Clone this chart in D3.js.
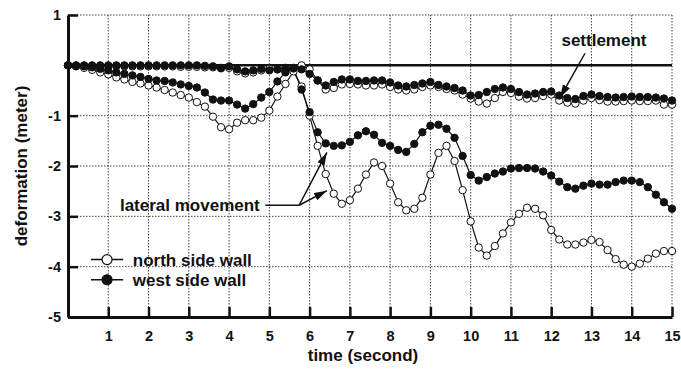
<!DOCTYPE html>
<html lang="en">
<head>
<meta charset="utf-8">
<title>Wall deformation</title>
<script src="https://cdnjs.cloudflare.com/ajax/libs/d3/7.8.5/d3.min.js"></script>
<style>
    body { margin: 0; background: #fff; }
    svg text { font-family: "Liberation Sans", Arial, Helvetica, sans-serif; font-weight: bold; fill: #111; }
    .grid line { stroke: #444; stroke-width: 1; stroke-dasharray: 1.5,1.5; }
</style>
</head>
<body>
<svg id="chart" width="681" height="369"></svg>
<script>
// time steps (second)
var time = [0,0.2,0.4,0.6,0.8,1,1.2,1.4,1.6,1.8,2,2.2,2.4,2.6,2.8,3,3.2,3.4,3.6,3.8,
            4,4.2,4.4,4.6,4.8,5,5.2,5.4,5.6,5.8,6,6.2,6.4,6.6,6.8,7,7.2,7.4,7.6,7.8,
            8,8.2,8.4,8.6,8.8,9,9.2,9.4,9.6,9.8,10,10.2,10.4,10.6,10.8,11,11.2,11.4,11.6,11.8,
            12,12.2,12.4,12.6,12.8,13,13.2,13.4,13.6,13.8,14,14.2,14.4,14.6,14.8,15];

// lateral movement (meter)
var northLateral = [0,-0.02,-0.05,-0.09,-0.14,-0.18,-0.24,-0.28,-0.33,-0.36,-0.4,-0.44,-0.49,-0.54,-0.59,-0.64,-0.73,-0.82,-1.02,-1.23,
                    -1.27,-1.14,-1.09,-1.09,-1.04,-0.9,-0.62,-0.37,-0.12,-0.42,-1.0,-1.6,-2.16,-2.55,-2.75,-2.68,-2.45,-2.17,-1.93,-2.0,
                    -2.35,-2.72,-2.88,-2.85,-2.63,-2.17,-1.74,-1.6,-1.9,-2.48,-3.1,-3.62,-3.78,-3.59,-3.34,-3.12,-2.95,-2.83,-2.85,-2.98,
                    -3.27,-3.46,-3.56,-3.56,-3.52,-3.47,-3.51,-3.67,-3.85,-3.96,-4.0,-3.94,-3.84,-3.74,-3.69,-3.69];
var westLateral = [0,-0.01,-0.02,-0.04,-0.07,-0.1,-0.14,-0.17,-0.2,-0.23,-0.27,-0.3,-0.31,-0.34,-0.38,-0.41,-0.44,-0.54,-0.68,-0.7,
                   -0.7,-0.78,-0.86,-0.77,-0.64,-0.53,-0.32,-0.14,-0.06,-0.48,-0.93,-1.33,-1.55,-1.6,-1.59,-1.52,-1.39,-1.31,-1.38,-1.54,
                   -1.6,-1.68,-1.72,-1.56,-1.33,-1.2,-1.18,-1.26,-1.44,-1.8,-2.18,-2.29,-2.22,-2.15,-2.11,-2.05,-2.04,-2.04,-2.05,-2.11,
                   -2.19,-2.31,-2.42,-2.45,-2.39,-2.35,-2.37,-2.37,-2.32,-2.29,-2.29,-2.32,-2.42,-2.57,-2.72,-2.85];

// settlement (meter)
var northSettlement = [0,-0.01,-0.01,-0.02,-0.02,-0.02,-0.02,-0.02,-0.02,-0.02,-0.02,-0.02,-0.02,-0.02,-0.03,-0.03,-0.03,-0.04,-0.04,-0.06,
                       -0.05,-0.12,-0.16,-0.14,-0.1,-0.07,-0.08,-0.12,-0.05,0,-0.08,-0.3,-0.48,-0.45,-0.38,-0.37,-0.38,-0.4,-0.4,-0.38,
                       -0.43,-0.48,-0.5,-0.48,-0.43,-0.4,-0.43,-0.47,-0.5,-0.58,-0.66,-0.72,-0.76,-0.65,-0.53,-0.55,-0.62,-0.66,-0.65,-0.61,
                       -0.58,-0.7,-0.74,-0.76,-0.7,-0.65,-0.69,-0.72,-0.72,-0.71,-0.7,-0.71,-0.71,-0.7,-0.78,-0.78];
var westSettlement = [0,0,0,0,0,0,0,0,0,0,0,0,0,0,0,0,0,-0.01,-0.02,-0.05,
                      -0.02,-0.08,-0.12,-0.1,-0.07,-0.1,-0.08,-0.05,-0.06,-0.08,-0.17,-0.3,-0.4,-0.33,-0.28,-0.28,-0.31,-0.31,-0.3,-0.3,
                      -0.34,-0.4,-0.42,-0.39,-0.36,-0.33,-0.39,-0.42,-0.45,-0.5,-0.6,-0.59,-0.53,-0.47,-0.44,-0.47,-0.53,-0.58,-0.56,-0.53,
                      -0.52,-0.6,-0.65,-0.67,-0.61,-0.58,-0.61,-0.63,-0.64,-0.63,-0.62,-0.63,-0.63,-0.64,-0.66,-0.7];

var xTicks = [1,2,3,4,5,6,7,8,9,10,11,12,13,14,15];
var yTicks = [1,-1,-2,-3,-4,-5];
var yGrid = [1,-1,-2,-3,-4];

var svg = d3.select("#chart");

var x = d3.scaleLinear().domain([0, 15]).range([68, 672]);
var y = d3.scaleLinear().domain([-5, 1]).range([317, 15]);

// arrow head
svg.append("defs").append("marker")
    .attr("id", "arrow")
    .attr("markerUnits", "userSpaceOnUse")
    .attr("markerWidth", 13).attr("markerHeight", 8)
    .attr("refX", 13).attr("refY", 4)
    .attr("orient", "auto")
    .append("path")
    .attr("d", "M0,0 L13,4 L0,8 Z")
    .attr("fill", "#111");

// dotted grid
var grid = svg.append("g").attr("class", "grid");
grid.selectAll("line.v").data(xTicks).enter().append("line")
    .attr("x1", d => x(d)).attr("x2", d => x(d))
    .attr("y1", y(1)).attr("y2", y(-5));
grid.selectAll("line.h").data(yGrid).enter().append("line")
    .attr("x1", x(0)).attr("x2", x(15))
    .attr("y1", d => y(d)).attr("y2", d => y(d));

// zero reference line
svg.append("line")
    .attr("x1", x(0)).attr("x2", x(15))
    .attr("y1", y(0)).attr("y2", y(0))
    .attr("stroke", "#111").attr("stroke-width", 2.5);

// axes
var xAxis = svg.append("g")
    .attr("transform", "translate(0," + y(-5) + ")")
    .call(d3.axisBottom(x).tickValues(xTicks).tickSizeInner(-10).tickSizeOuter(0)
        .tickPadding(14).tickFormat(d => String(d)));
var yAxis = svg.append("g")
    .attr("transform", "translate(" + x(0) + ",0)")
    .call(d3.axisLeft(y).tickValues(yTicks).tickSizeInner(-10).tickSizeOuter(0)
        .tickPadding(7).tickFormat(d => String(d)));

[xAxis, yAxis].forEach(a => {
    a.attr("font-family", null).attr("font-size", null);
    a.select(".domain").attr("stroke", "#111").attr("stroke-width", 3);
    a.selectAll(".tick line").attr("stroke", "#111").attr("stroke-width", 2.5);
    a.selectAll(".tick text").style("font-size", "14.5px");
});

// series
var series = [
    {vals: northSettlement, fill: "#fff"},
    {vals: northLateral, fill: "#fff"},
    {vals: westSettlement, fill: "#111"},
    {vals: westLateral, fill: "#111"}
];

var line = d3.line()
    .x((d, i) => x(time[i]))
    .y(d => y(d));

series.forEach(s => {
    svg.append("path")
        .datum(s.vals)
        .attr("d", line)
        .attr("fill", "none")
        .attr("stroke", "#111")
        .attr("stroke-width", 1.2);
});
series.forEach(s => {
    svg.append("g").selectAll("circle")
        .data(s.vals).enter().append("circle")
        .attr("cx", (d, i) => x(time[i]))
        .attr("cy", d => y(d))
        .attr("r", 3.7)
        .attr("fill", s.fill)
        .attr("stroke", "#111")
        .attr("stroke-width", 1);
});

// annotations
svg.append("text")
    .attr("x", x(13.31)).attr("y", y(0.5))
    .attr("dy", "0.35em")
    .attr("text-anchor", "middle")
    .style("font-size", "17px")
    .text("settlement");
svg.append("line")
    .attr("x1", x(12.84)).attr("y1", y(0.24))
    .attr("x2", x(12.22)).attr("y2", y(-0.64))
    .attr("stroke", "#111").attr("stroke-width", 1.5)
    .attr("marker-end", "url(#arrow)");

svg.append("text")
    .attr("x", x(1.29)).attr("y", y(-2.78))
    .attr("dy", "0.35em")
    .style("font-size", "17px")
    .text("lateral movement");
svg.append("line")
    .attr("x1", x(4.9)).attr("y1", y(-2.78))
    .attr("x2", x(5.74)).attr("y2", y(-2.78))
    .attr("stroke", "#111").attr("stroke-width", 1.5);
[[6.43, -1.73], [6.43, -2.49]].forEach(p => {
    svg.append("line")
        .attr("x1", x(5.74)).attr("y1", y(-2.78))
        .attr("x2", x(p[0])).attr("y2", y(p[1]))
        .attr("stroke", "#111").attr("stroke-width", 1.5)
        .attr("marker-end", "url(#arrow)");
});

// legend
var legend = [
    {name: "north side wall", fill: "#fff", v: -3.86},
    {name: "west side wall", fill: "#111", v: -4.26}
];
var lg = svg.append("g").selectAll("g").data(legend).enter().append("g");
lg.append("line")
    .attr("x1", x(0.57)).attr("x2", x(1.37))
    .attr("y1", d => y(d.v)).attr("y2", d => y(d.v))
    .attr("stroke", "#111").attr("stroke-width", 1.5);
lg.append("circle")
    .attr("cx", x(0.97)).attr("cy", d => y(d.v))
    .attr("r", 5)
    .attr("fill", d => d.fill)
    .attr("stroke", "#111").attr("stroke-width", 1.2);
lg.append("text")
    .attr("x", x(1.61)).attr("y", d => y(d.v))
    .attr("dy", "0.35em")
    .style("font-size", "17px")
    .text(d => d.name);

// axis titles
svg.append("text")
    .attr("x", 363).attr("y", 355)
    .attr("dy", "0.35em")
    .attr("text-anchor", "middle")
    .style("font-size", "17px")
    .text("time (second)");
svg.append("text")
    .attr("transform", "translate(21," + y(-2) + ") rotate(-90)")
    .attr("dy", "0.35em")
    .attr("text-anchor", "middle")
    .style("font-size", "17px")
    .text("deformation (meter)");
</script>
</body>
</html>
